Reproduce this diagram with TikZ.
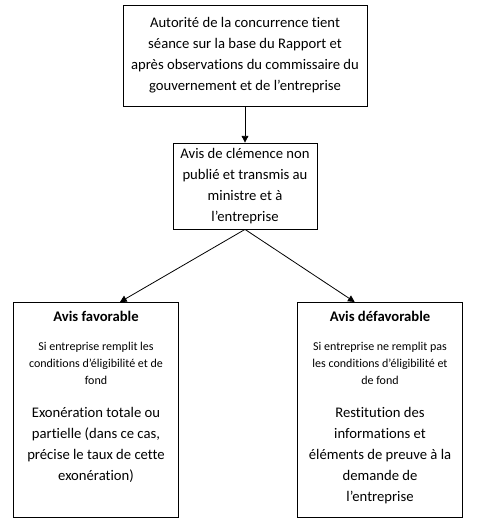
\documentclass[tikz,border=0pt]{standalone}
\usepackage{fontspec}
\setmainfont{Carlito}[Ligatures=NoCommon]
\usetikzlibrary{arrows.meta,positioning}
\newcommand{\normaltxt}{\fontsize{11}{15.75}\selectfont}
\newcommand{\petittxt}{\fontsize{9}{12.75}\selectfont}
\newcommand{\cadre}[1]{\parbox[t][148pt][t]{120pt}{\centering #1}}
\tikzset{
  etape/.style={draw,line width=0.6pt,align=center,inner sep=2pt,font=\normaltxt},
  avis/.style={draw,line width=0.6pt,anchor=north,inner xsep=2pt,inner ysep=6.5pt,font=\normaltxt},
  fleche/.style={line width=0.6pt,-{Triangle[length=5pt,width=5pt]}},
}
\begin{document}
\begin{tikzpicture}[x=0.75pt,y=-0.75pt]
  \useasboundingbox (0,0) rectangle (476,526);
  \node[etape,minimum width=183pt,minimum height=75.75pt] (seance) at (245,55.5)
    {Autorité de la concurrence tient\\ séance sur la base du Rapport et\\
     après observations du commissaire du\\ gouvernement et de l’entreprise};
  \node[etape,minimum width=108pt,minimum height=64.5pt] (clemence) at (245,186)
    {Avis de clémence non\\ publié et transmis au\\ ministre et à\\ l’entreprise};
  \node[avis] (fav) at (96,302)
    {\cadre{\textbf{Avis favorable}\\[9pt]
     {\petittxt Si entreprise remplit les\\ conditions d’éligibilité et de\\ fond\\[9pt]}
     Exonération totale ou\\ partielle (dans ce cas,\\ précise le taux de cette\\ exonération)}};
  \node[avis] (defav) at (380,302)
    {\cadre{\textbf{Avis défavorable}\\[9pt]
     {\petittxt Si entreprise ne remplit pas\\ les conditions d’éligibilité et\\ de fond\\[9pt]}
     Restitution des\\ informations et\\ éléments de preuve à la\\ demande de\\ l’entreprise}};
  \draw[fleche] (seance) -- (clemence);
  \draw[fleche] (clemence.south) -- ([xshift=18pt]fav.north);
  \draw[fleche] (clemence.south) -- ([xshift=-19pt]defav.north);
\end{tikzpicture}
\end{document}
